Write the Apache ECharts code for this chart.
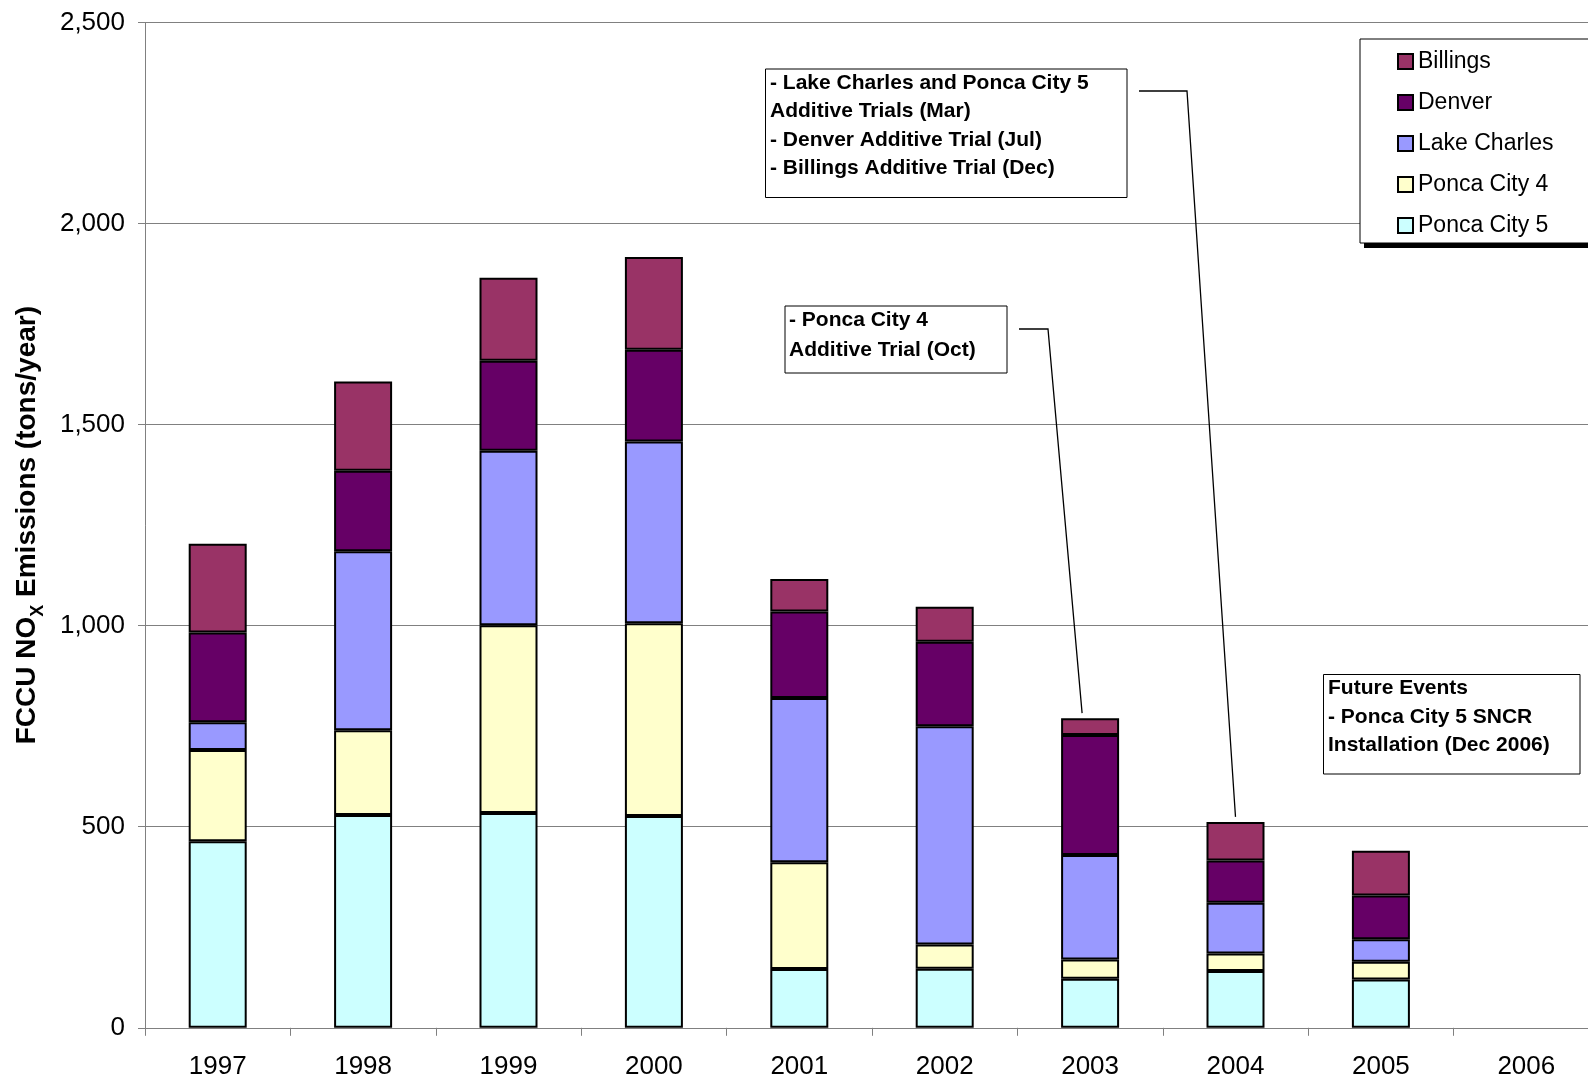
<!DOCTYPE html>
<html>
<head>
<meta charset="utf-8">
<script src="https://cdn.jsdelivr.net/npm/echarts@6/dist/echarts.min.js"></script>
<style>
  html, body { margin: 0; padding: 0; background: #fff; }
  #main { width: 1588px; height: 1077px; }
</style>
</head>
<body>
<div id="main"></div>
<script>
const years = ['1997', '1998', '1999', '2000', '2001', '2002', '2003', '2004', '2005', '2006']
// tons/year (2006 has no data)
const poncaCity5 = [464, 529, 534, 527, 146, 147, 122, 141, 120, null]
const poncaCity4 = [227, 211, 467, 479, 266, 60, 48, 44, 44, null]
const lakeCharles = [69, 445, 434, 452, 408, 543, 260, 126, 56, null]
const denver = [223, 200, 224, 228, 215, 210, 298, 105, 109, null]
const billings = [221, 222, 206, 231, 81, 87, 42, 96, 111, null]
const legendOrder = ['Billings', 'Denver', 'Lake Charles', 'Ponca City 4', 'Ponca City 5']

const FONT = '"Liberation Sans", Arial, sans-serif'

const myChart = echarts.init(document.getElementById('main'))

const mkSeries = (name, data, color) => ({
  name: name,
  type: 'bar',
  stack: 'total',
  data: data,
  barWidth: 58,
  itemStyle: { color: color, borderColor: '#000', borderWidth: 2 },
})

const option = {
  animation: false,
  backgroundColor: '#fff',
  textStyle: { fontFamily: FONT },
  // plot runs past the right edge of the picture, like the original
  grid: { left: 145, top: 22.5, width: 1454, height: 1005.3, outerBoundsMode: 'none', containLabel: false },
  legend: {
    data: legendOrder,
    orient: 'vertical',
    left: 1397,
    top: 50,
    padding: 0,
    itemGap: 18,
    itemWidth: 15,
    itemHeight: 15,
    z: 60,
    icon: 'rect',
    itemStyle: { borderColor: '#000', borderWidth: 2 },
    textStyle: { fontFamily: FONT, fontSize: 23, color: '#000' },
  },
  xAxis: {
    type: 'category',
    data: years,
    axisLine: { lineStyle: { color: '#808080', width: 1 } },
    axisTick: { show: true, length: 8, lineStyle: { color: '#808080' } },
    axisLabel: { fontFamily: FONT, fontSize: 26, color: '#000', margin: 26 },
  },
  yAxis: {
    type: 'value',
    min: 0,
    max: 2500,
    interval: 500,
    name: '{a|FCCU NO}{s|X}{a| Emissions (tons/year)}',
    nameLocation: 'middle',
    nameGap: 104,
    nameTextStyle: {
      rich: {
        a: { fontFamily: FONT, fontSize: 28, fontWeight: 'bold', color: '#000' },
        s: { fontFamily: FONT, fontSize: 18, fontWeight: 'bold', color: '#000', verticalAlign: 'bottom', padding: [0, 0, -6, 0] },
      },
    },
    axisLine: { show: true, lineStyle: { color: '#808080', width: 1 } },
    axisTick: { show: true, length: 7, lineStyle: { color: '#808080' } },
    splitLine: { lineStyle: { color: '#808080', width: 1 } },
    axisLabel: {
      fontFamily: FONT,
      fontSize: 26,
      color: '#000',
      margin: 20,
      formatter: function (v) {
        return v.toLocaleString('en-US')
      },
    },
  },
  series: [
    mkSeries('Ponca City 5', poncaCity5, '#CCFFFF'),
    mkSeries('Ponca City 4', poncaCity4, '#FFFFCC'),
    mkSeries('Lake Charles', lakeCharles, '#9999FF'),
    mkSeries('Denver', denver, '#660066'),
    mkSeries('Billings', billings, '#993366'),
  ],
}

myChart.setOption(option)

// leader lines end just above the bar they point at
const totals = years.map((y, i) =>
  [poncaCity5, poncaCity4, lakeCharles, denver, billings].reduce((s, arr) => s + (arr[i] || 0), 0)
)
const barTop = (year, dx) => {
  const i = years.indexOf(year)
  const p = myChart.convertToPixel({ xAxisIndex: 0, yAxisIndex: 0 }, [i, totals[i]])
  return [p[0] + dx, p[1] - 5]
}

const box = (x, y, w, h, lines, lh, tx) => [
  {
    type: 'rect',
    z: 50,
    shape: { x: x, y: y, width: w, height: h },
    style: { fill: '#fff', stroke: '#000', lineWidth: 1 },
  },
  {
    type: 'text',
    z: 51,
    style: {
      text: lines.join('\n'),
      x: tx,
      y: y,
      font: 'bold 21px ' + FONT,
      lineHeight: lh,
      fill: '#000',
      verticalAlign: 'top',
    },
  },
]

const p2004 = barTop('2004', 0)
const p2003 = barTop('2003', -8)

myChart.setOption({
  graphic: {
    elements: [
      // legend frame with its shadow
      { type: 'rect', z: 49, shape: { x: 1364, y: 243, width: 240, height: 5 }, style: { fill: '#000' } },
      { type: 'rect', z: 50, shape: { x: 1360, y: 39, width: 240, height: 204 }, style: { fill: '#fff', stroke: '#000', lineWidth: 1 } },
      ...box(765.5, 69, 361.5, 128.5, [
        '- Lake Charles and Ponca City 5',
        'Additive Trials (Mar)',
        '- Denver Additive Trial (Jul)',
        '- Billings Additive Trial (Dec)',
      ], 28.3, 770),
      ...box(785, 306, 222, 67, ['- Ponca City 4', 'Additive Trial (Oct)'], 29.4, 789),
      ...box(1323.5, 674.5, 256.5, 99.5, ['Future Events', '- Ponca City 5 SNCR', 'Installation (Dec 2006)'], 28.4, 1328),
      {
        type: 'polyline',
        z: 50,
        shape: { points: [[1139, 91], [1187, 91], p2004] },
        style: { stroke: '#000', lineWidth: 1.3, fill: null },
      },
      {
        type: 'polyline',
        z: 50,
        shape: { points: [[1019, 329], [1048, 329], p2003] },
        style: { stroke: '#000', lineWidth: 1.3, fill: null },
      },
    ],
  },
})
</script>
</body>
</html>
